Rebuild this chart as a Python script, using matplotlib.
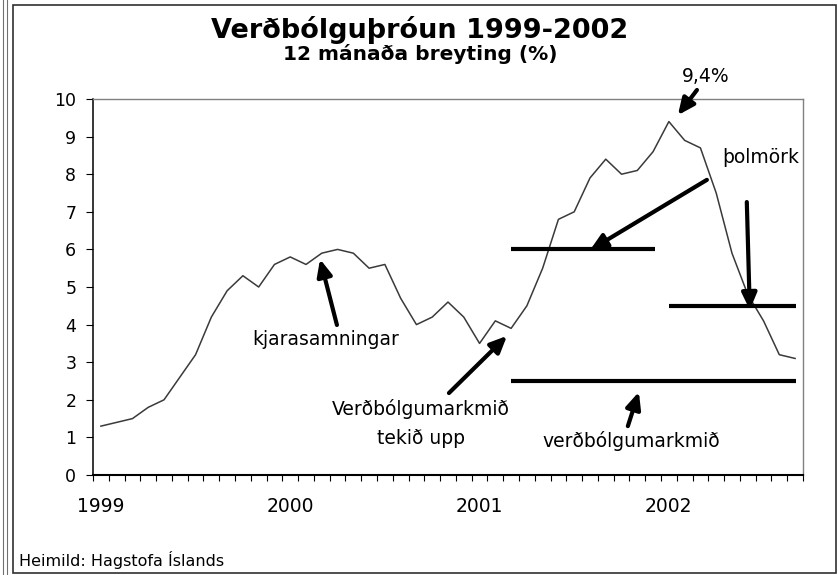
import matplotlib
matplotlib.use('Agg')
import matplotlib.pyplot as plt
from matplotlib.lines import Line2D
import numpy as np

# 12 month change, Jan 1999 - Sep 2002
months = np.arange(45)
inflation = [1.3, 1.4, 1.5, 1.8, 2.0, 2.6, 3.2, 4.2, 4.9, 5.3,
             5.0, 5.6, 5.8, 5.6, 5.9, 6.0, 5.9, 5.5, 5.6, 4.7,
             4.0, 4.2, 4.6, 4.2, 3.5, 4.1, 3.9, 4.5, 5.5, 6.8,
             7.0, 7.9, 8.4, 8.0, 8.1, 8.6, 9.4, 8.9, 8.7, 7.5,
             5.9, 4.8, 4.1, 3.2, 3.1]
year_pos = [0, 12, 24, 36]
year_labels = ['1999', '2000', '2001', '2002']

# target lines: (y, x start, x end)
target_lines = [(6.0, 26, 35.1), (2.5, 26, 44.05), (4.5, 36, 44.05)]

plt.rcParams['font.family'] = ['DejaVu Sans']

fig = plt.figure(figsize=(8.38, 5.75), dpi=100)
ax = fig.add_axes([0.111, 0.1739, 0.8472, 0.6539])

ax.plot(months, inflation, c='#3a3a3a', lw=1.1)

for y, x0, x1 in target_lines:
    ax.plot([x0, x1], [y, y], c='k', lw=3, solid_capstyle='butt')

ax.set_xlim(-0.5, 44.5)
ax.set_ylim(0, 10)
ax.set_yticks(range(11))
ax.tick_params(axis='y', direction='out', length=5, width=0.8, pad=7, labelsize=12.5)
ax.set_xticks(np.arange(-0.5, 45, 1))
ax.set_xticklabels([])
ax.set_xticks(year_pos, minor=True)
ax.set_xticklabels(year_labels, minor=True)
ax.tick_params(axis='x', which='major', direction='out', length=4.5, width=0.8)
ax.tick_params(axis='x', which='minor', length=0, pad=16, labelsize=13.5)

ax.spines['left'].set_linewidth(1.1)
ax.spines['bottom'].set_linewidth(1.5)
for s in ['top', 'right']:
    ax.spines[s].set_color('#808080')
    ax.spines[s].set_linewidth(1.0)

arrow = dict(arrowstyle='-|>,head_length=1.0,head_width=0.45', lw=3, color='k',
             shrinkA=0, shrinkB=0, mutation_scale=10)

# arrows: (tip, tail)
ax.annotate('', xy=(36.57, 9.57), xytext=(37.78, 10.24), arrowprops=arrow, annotation_clip=False)
ax.annotate('', xy=(31.0, 5.98), xytext=(38.41, 7.85), arrowprops=arrow)
ax.annotate('', xy=(41.13, 4.39), xytext=(40.94, 7.26), arrowprops=arrow)
ax.annotate('', xy=(13.89, 5.74), xytext=(14.96, 3.99), arrowprops=arrow)
ax.annotate('', xy=(25.74, 3.70), xytext=(22.06, 2.18), arrowprops=arrow)
ax.annotate('', xy=(34.1, 2.21), xytext=(33.4, 1.30), arrowprops=arrow)

fs = 13.5
ax.text(38.35, 10.46, '9,4%', ha='center', va='baseline', fontsize=fs, clip_on=False)
ax.text(41.83, 8.30, 'þolmörk', ha='center', va='baseline', fontsize=fs)
ax.text(14.27, 3.46, 'kjarasamningar', ha='center', va='baseline', fontsize=fs)
ax.text(20.29, 1.60, 'Verðbólgumarkmið', ha='center', va='baseline', fontsize=fs)
ax.text(20.29, 0.82, 'tekið upp', ha='center', va='baseline', fontsize=fs)
ax.text(33.6, 0.745, 'verðbólgumarkmið', ha='center', va='baseline', fontsize=fs)

fig.text(0.501, 0.9345, 'Verðbólguþróun 1999-2002', ha='center', va='baseline',
         fontsize=19.5, fontweight='bold')
fig.text(0.502, 0.8957, '12 mánaða breyting (%)', ha='center', va='baseline',
         fontsize=14.5, fontweight='bold')
fig.text(0.0227, 0.0157, 'Heimild: Hagstofa Íslands', ha='left', va='baseline', fontsize=11.5)

# chart frame
W, H = 838, 575
fr = plt.Rectangle((13 / W, 2 / H), 823 / W, 568 / H, transform=fig.transFigure,
                   fill=False, ec='#303030', lw=1.2)
fig.add_artist(fr)
for xp in [3.3, 6.7]:
    fig.add_artist(Line2D([xp / W, xp / W], [0, 1], transform=fig.transFigure, c='#707070', lw=0.8))

fig.savefig('out.png', dpi=100)
